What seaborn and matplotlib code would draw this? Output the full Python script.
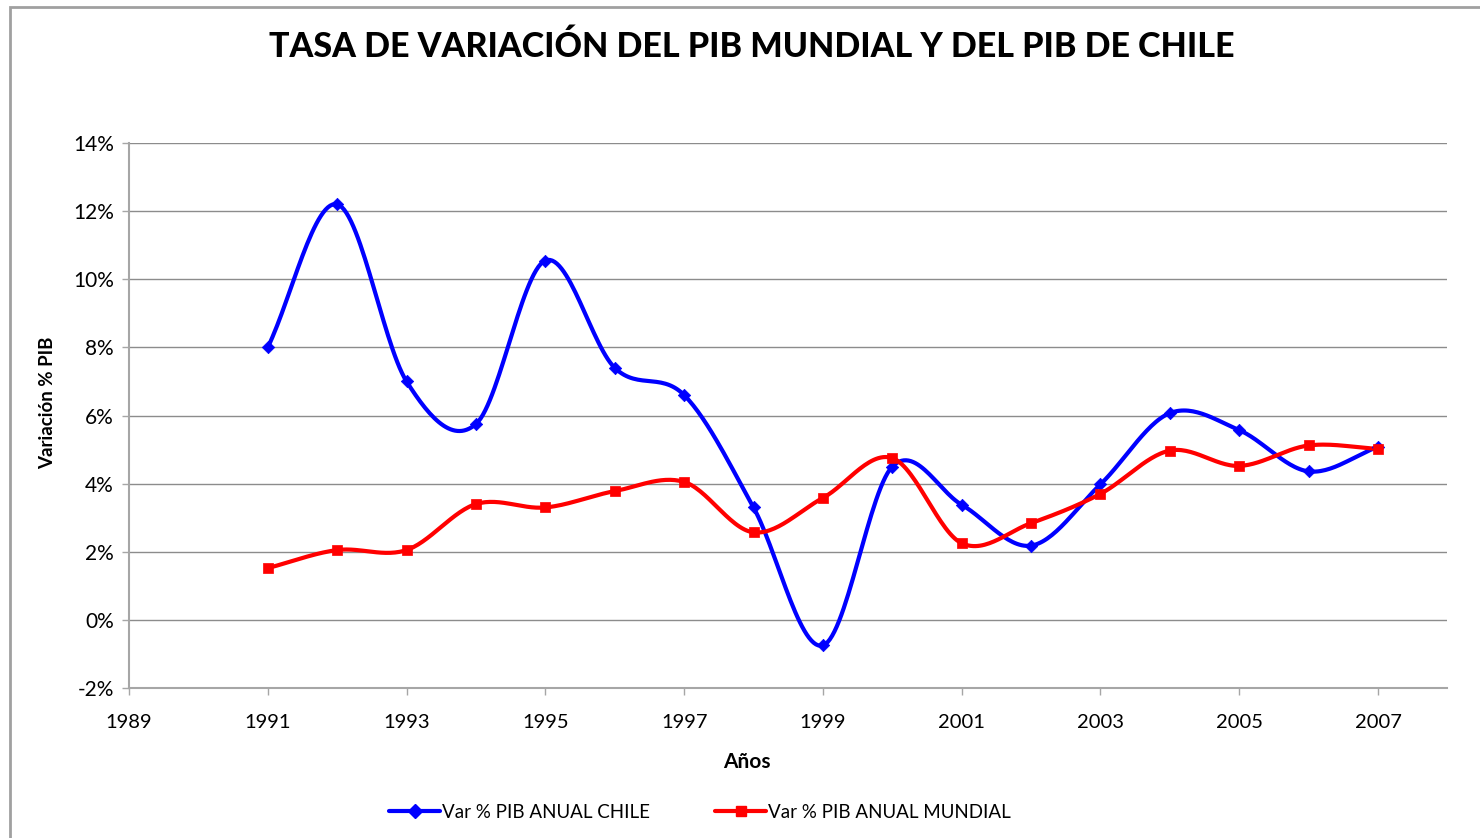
import numpy as np
import pandas as pd
import matplotlib
matplotlib.use("Agg")
import matplotlib.pyplot as plt
from matplotlib.patches import Rectangle
import seaborn as sns

years = [1991, 1992, 1993, 1994, 1995, 1996, 1997, 1998, 1999, 2000,
         2001, 2002, 2003, 2004, 2005, 2006, 2007]
chile = [8.0, 12.2, 7.0, 5.75, 10.55, 7.4, 6.6, 3.3, -0.75, 4.5,
         3.38, 2.18, 3.98, 6.07, 5.57, 4.36, 5.08]
mundial = [1.52, 2.05, 2.05, 3.4, 3.3, 3.78, 4.05, 2.57, 3.58, 4.75,
           2.25, 2.84, 3.7, 4.97, 4.52, 5.12, 5.02]
series_names = ["Var % PIB ANUAL CHILE", "Var % PIB ANUAL MUNDIAL"]
colors = ["#0000FF", "#FF0000"]
markers = ["D", "s"]


def smooth(x, y, n=30):
    # Catmull-Rom style smoothing like Excel's smoothed line
    x = np.asarray(x, float); y = np.asarray(y, float)
    px = np.concatenate([[2 * x[0] - x[1]], x, [2 * x[-1] - x[-2]]])
    py = np.concatenate([[2 * y[0] - y[1]], y, [2 * y[-1] - y[-2]]])
    xs, ys = [], []
    for i in range(1, len(px) - 2):
        p0 = np.array([px[i], py[i]]); p3 = np.array([px[i + 1], py[i + 1]])
        c1 = p0 + (np.array([px[i + 1], py[i + 1]]) - np.array([px[i - 1], py[i - 1]])) / 6
        c2 = p3 - (np.array([px[i + 2], py[i + 2]]) - np.array([px[i], py[i]])) / 6
        t = np.linspace(0, 1, n, endpoint=(i == len(px) - 3))
        b = ((1 - t) ** 3)[:, None] * p0 + (3 * (1 - t) ** 2 * t)[:, None] * c1 \
            + (3 * (1 - t) * t ** 2)[:, None] * c2 + (t ** 3)[:, None] * p3
        xs.extend(b[:, 0]); ys.extend(b[:, 1])
    return np.array(xs), np.array(ys)


sns.set_theme(style="white")
plt.rcParams['font.family'] = ['Lato', 'DejaVu Sans']
plt.rcParams['text.color'] = 'black'
plt.rcParams['axes.labelcolor'] = 'black'

fig = plt.figure(figsize=(14.8, 8.38), dpi=100)
ax = fig.add_axes([129 / 1480, 1 - 688 / 838, (1447 - 129) / 1480, (688 - 143) / 838])

fig.patches.append(Rectangle((9.5 / 1480, -0.1), 1.2, 1 - 7.5 / 838 + 0.1,
                             transform=fig.transFigure, fill=False,
                             edgecolor="#A0A0A0", linewidth=2, zorder=0))

for name, vals, c, m in zip(series_names, [chile, mundial], colors, markers):
    sx, sy = smooth(years, vals)
    df_s = pd.DataFrame({"Año": sx, "v": sy})
    sns.lineplot(data=df_s, x="Año", y="v", ax=ax, color=c, linewidth=3,
                 sort=False, estimator=None)
    df_p = pd.DataFrame({"Año": years, "v": vals})
    sns.scatterplot(data=df_p, x="Año", y="v", ax=ax, color=c, marker=m,
                    s=45 if m == "s" else 40, edgecolor=c, linewidth=0.5, zorder=5)

ax.set_xlim(1989, 2008 + (1447 - 1378) / 69.4 - 1)
ax.set_ylim(-2, 14)
ax.set_xticks(np.arange(1989, 2008, 2))
ax.set_xticklabels([str(y) for y in range(1989, 2008, 2)], fontsize=14.5)
ax.set_yticks(np.arange(-2, 15, 2))
ax.set_yticklabels([f"{v}%" for v in range(-2, 15, 2)], fontsize=15)
ax.yaxis.grid(True, color="#8C8C8C", linewidth=1)
ax.xaxis.grid(False)
for s in ["top", "right"]:
    ax.spines[s].set_visible(False)
for s in ["left", "bottom"]:
    ax.spines[s].set_color("#A6A6A6")
    ax.spines[s].set_linewidth(1.5)
ax.tick_params(axis="both", which="both", direction="out", length=5, width=1,
               color="#A6A6A6", labelcolor="black", pad=6, left=True, bottom=True)
ax.tick_params(axis="x", pad=14)

ax.set_xlabel("Años", fontsize=15, fontweight="bold", labelpad=16)
ax.xaxis.set_label_coords((747 - 129) / (1447 - 129), -(762 - 688) / (688 - 143) + 0.0)
ax.xaxis.label.set_va("center")
ax.set_ylabel("Variación % PIB", fontsize=13.5, fontweight="bold")
ax.yaxis.set_label_coords(-(129 - 48) / (1447 - 129), (688 - 403) / (688 - 143))
ax.yaxis.label.set_va("center")

fig.text(752 / 1480, 1 - 47 / 838, "TASA DE VARIACIÓN DEL PIB MUNDIAL Y DEL PIB DE CHILE",
         ha="center", va="center", fontsize=24.5, fontweight="black")

handles = [plt.Line2D([], [], color=c, marker=m, linewidth=3, markersize=7)
           for c, m in zip(colors, markers)]
fig.legend(handles, series_names, loc="center", bbox_to_anchor=(700 / 1480, 1 - 812 / 838),
           ncol=2, frameon=False, fontsize=13.5, handlelength=2.7, handletextpad=0.1,
           columnspacing=3.5)

fig.savefig("out.png", dpi=100)
